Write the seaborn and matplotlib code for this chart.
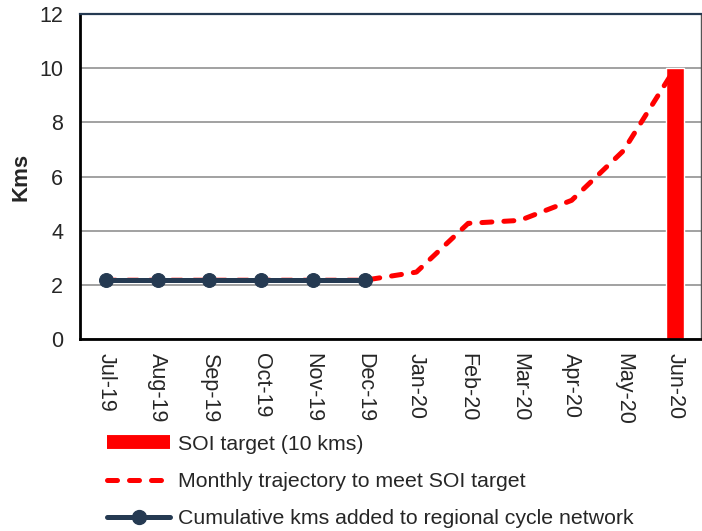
import numpy as np
import pandas as pd
import matplotlib
matplotlib.use('Agg')
import matplotlib.pyplot as plt
import seaborn as sns
from matplotlib.lines import Line2D

months = ['Jul-19', 'Aug-19', 'Sep-19', 'Oct-19', 'Nov-19', 'Dec-19',
          'Jan-20', 'Feb-20', 'Mar-20', 'Apr-20', 'May-20', 'Jun-20']
soi_target = [np.nan] * 11 + [10]
trajectory = [2.17, 2.17, 2.17, 2.17, 2.17, 2.17, 2.47, 4.27, 4.38, 5.12, 6.95, 10.0]
cumulative = [2.17, 2.17, 2.17, 2.17, 2.17, 2.17]

RED = '#FF0000'
NAVY = '#253A52'
DASH = (0, (2.0, 2.4))

sns.set_style('white')
plt.rcParams['font.family'] = ['Liberation Sans', 'DejaVu Sans']

df = pd.DataFrame({'pos': np.arange(len(months)), 'month': months,
                   'target': soi_target, 'traj': trajectory})
cum_df = pd.DataFrame({'pos': np.arange(len(cumulative)), 'cum': cumulative})

fig = plt.figure(figsize=(7.02, 5.31), dpi=100)
ax = fig.add_axes([0.114, 0.3616, 0.8846, 0.612])

# target bar
ax.bar(df['pos'], df['target'], width=0.35, color=RED, zorder=2)

sns.lineplot(data=df, x='pos', y='traj', ax=ax, color=RED, lw=3.6,
             linestyle=DASH, dash_capstyle='round', zorder=3)
sns.lineplot(data=cum_df, x='pos', y='cum', ax=ax, color=NAVY, lw=3.6,
             marker='o', markersize=10, markeredgecolor=NAVY, zorder=4)

ax.set_xlim(-0.5, 11.5)
ax.set_ylim(0, 12)
ax.set_yticks(range(0, 13, 2))
ax.yaxis.grid(True, color='#9a9a9a', lw=1.3)
ax.set_axisbelow(True)

# ticks between categories, labels centred
ax.set_xticks(np.arange(-0.5, 12, 1))
ax.set_xticklabels([])
ax.set_xticks(df['pos'], minor=True)
ax.set_xticklabels(months, minor=True, rotation=270, fontsize=15.5)
ax.tick_params(axis='x', which='major', direction='out', length=6, width=1.5, color='black')
ax.tick_params(axis='x', which='minor', length=0, pad=10)
ax.tick_params(axis='y', direction='out', length=6, width=1.5, labelsize=15.5, pad=6)

ax.set_xlabel('')
ax.set_ylabel('Kms', fontsize=16, fontweight='bold', labelpad=6)

for side in ['left', 'bottom']:
    ax.spines[side].set_color('black')
    ax.spines[side].set_linewidth(2)
ax.spines['top'].set_color(NAVY)
ax.spines['top'].set_linewidth(1.6)
ax.spines['right'].set_color('#555555')
ax.spines['right'].set_linewidth(1)

handles = [
    Line2D([], [], color=RED, lw=10, solid_capstyle='butt'),
    Line2D([], [], color=RED, lw=3.6, linestyle=DASH, dash_capstyle='round'),
    Line2D([], [], color=NAVY, lw=3.6, marker='o', markersize=10),
]
labels = ['SOI target (10 kms)', 'Monthly trajectory to meet SOI target',
          'Cumulative kms added to regional cycle network']
fig.legend(handles, labels, loc='upper left', bbox_to_anchor=(0.152, 0.181),
           frameon=False, fontsize=15.3, handlelength=3.0, handletextpad=0.35,
           labelspacing=0.85, borderaxespad=0, borderpad=0)

fig.savefig('out.png', dpi=100)
